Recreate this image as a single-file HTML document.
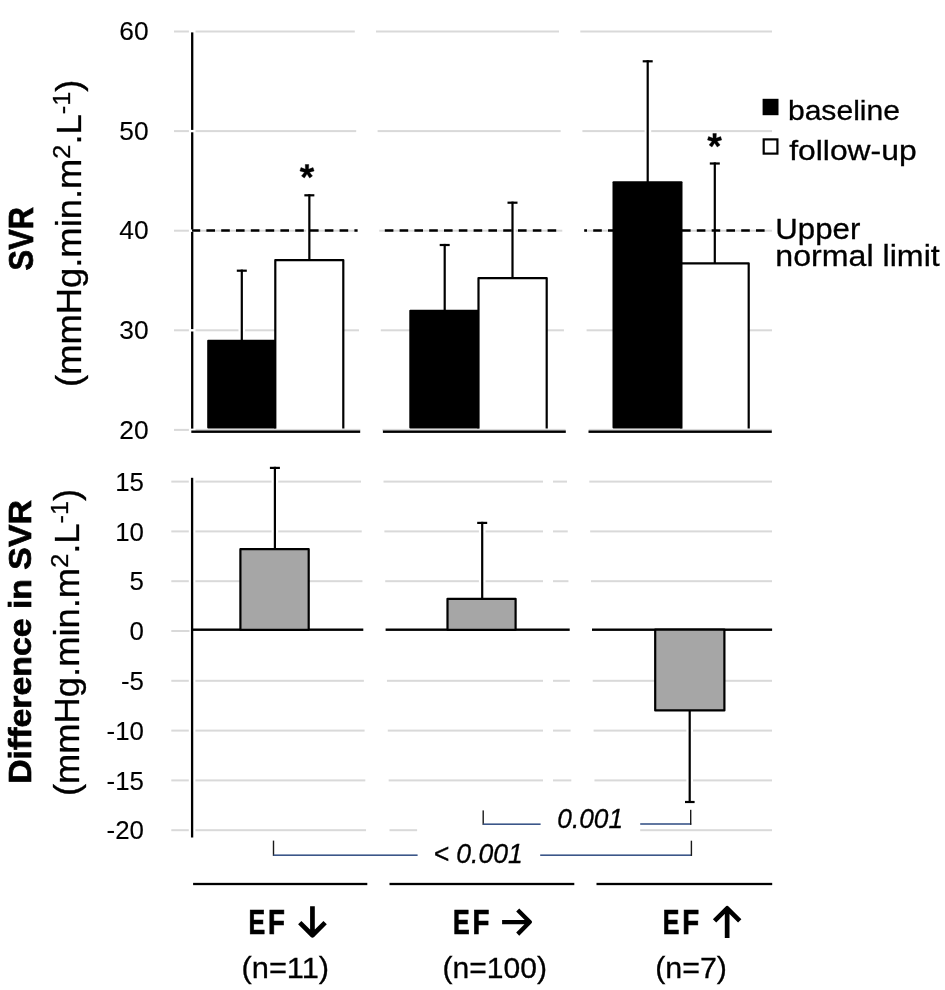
<!DOCTYPE html>
<html><head><meta charset="utf-8"><title>SVR chart</title><style>
html,body{margin:0;padding:0;background:#fff;overflow:hidden;}
svg{display:block;will-change:transform;}
text{font-family:"Liberation Sans", sans-serif;fill:#000;stroke:#000;stroke-width:0.3px;}
text[font-weight="bold"]{stroke-width:0.7px;}
</style></head><body>
<svg width="945" height="990" viewBox="0 0 945 990">
<rect width="945" height="990" fill="#fff"/>
<rect x="174.00" y="30.50" width="180.81" height="2.00" fill="#d9d9d9"/>
<rect x="376.01" y="30.50" width="183.00" height="2.00" fill="#d9d9d9"/>
<rect x="580.31" y="30.50" width="191.69" height="2.00" fill="#d9d9d9"/>
<rect x="174.00" y="130.10" width="182.20" height="2.00" fill="#d9d9d9"/>
<rect x="377.60" y="130.10" width="183.05" height="2.00" fill="#d9d9d9"/>
<rect x="582.40" y="130.10" width="189.60" height="2.00" fill="#d9d9d9"/>
<rect x="174.00" y="229.70" width="183.60" height="2.00" fill="#d9d9d9"/>
<rect x="379.20" y="229.70" width="183.10" height="2.00" fill="#d9d9d9"/>
<rect x="584.49" y="229.70" width="187.51" height="2.00" fill="#d9d9d9"/>
<rect x="174.00" y="329.30" width="184.99" height="2.00" fill="#d9d9d9"/>
<rect x="380.79" y="329.30" width="183.15" height="2.00" fill="#d9d9d9"/>
<rect x="586.59" y="329.30" width="185.41" height="2.00" fill="#d9d9d9"/>
<rect x="174.00" y="428.90" width="186.38" height="2.00" fill="#d9d9d9"/>
<rect x="382.38" y="428.90" width="183.20" height="2.00" fill="#d9d9d9"/>
<rect x="588.68" y="428.90" width="183.32" height="2.00" fill="#d9d9d9"/>
<rect x="188.90" y="29.90" width="6.60" height="3.20" fill="#fff"/>
<rect x="188.90" y="129.50" width="6.60" height="3.20" fill="#fff"/>
<rect x="644.60" y="129.50" width="6.60" height="3.20" fill="#fff"/>
<rect x="188.90" y="229.10" width="6.60" height="3.20" fill="#fff"/>
<rect x="306.10" y="229.10" width="6.60" height="3.20" fill="#fff"/>
<rect x="509.00" y="229.10" width="6.60" height="3.20" fill="#fff"/>
<rect x="711.20" y="229.10" width="6.60" height="3.20" fill="#fff"/>
<rect x="188.90" y="328.70" width="6.60" height="3.20" fill="#fff"/>
<rect x="238.50" y="328.70" width="6.60" height="3.20" fill="#fff"/>
<rect x="188.90" y="428.30" width="6.60" height="3.20" fill="#fff"/>
<rect x="191.05" y="32.40" width="2.30" height="97.50" fill="#000"/>
<rect x="191.05" y="132.30" width="2.30" height="97.20" fill="#000"/>
<rect x="191.05" y="231.90" width="2.30" height="97.20" fill="#000"/>
<rect x="191.05" y="331.50" width="2.30" height="97.10" fill="#000"/>
<rect x="191.30" y="430.50" width="168.90" height="2.40" fill="#000"/>
<rect x="382.90" y="430.50" width="182.90" height="2.40" fill="#000"/>
<rect x="588.50" y="430.50" width="183.30" height="2.40" fill="#000"/>
<rect x="192.00" y="229.25" width="8.20" height="2.50" fill="#000"/>
<rect x="206.40" y="229.25" width="8.60" height="2.50" fill="#000"/>
<rect x="221.20" y="229.25" width="8.60" height="2.50" fill="#000"/>
<rect x="236.00" y="229.25" width="8.60" height="2.50" fill="#000"/>
<rect x="250.80" y="229.25" width="8.60" height="2.50" fill="#000"/>
<rect x="265.60" y="229.25" width="8.60" height="2.50" fill="#000"/>
<rect x="280.40" y="229.25" width="8.60" height="2.50" fill="#000"/>
<rect x="295.20" y="229.25" width="8.60" height="2.50" fill="#000"/>
<rect x="310.00" y="229.25" width="8.60" height="2.50" fill="#000"/>
<rect x="324.80" y="229.25" width="8.60" height="2.50" fill="#000"/>
<rect x="339.60" y="229.25" width="8.60" height="2.50" fill="#000"/>
<rect x="354.40" y="229.25" width="3.19" height="2.50" fill="#000"/>
<rect x="384.80" y="229.25" width="8.60" height="2.50" fill="#000"/>
<rect x="399.60" y="229.25" width="8.60" height="2.50" fill="#000"/>
<rect x="414.40" y="229.25" width="8.60" height="2.50" fill="#000"/>
<rect x="429.20" y="229.25" width="8.60" height="2.50" fill="#000"/>
<rect x="444.00" y="229.25" width="8.60" height="2.50" fill="#000"/>
<rect x="458.80" y="229.25" width="8.60" height="2.50" fill="#000"/>
<rect x="473.60" y="229.25" width="8.60" height="2.50" fill="#000"/>
<rect x="488.40" y="229.25" width="8.60" height="2.50" fill="#000"/>
<rect x="503.20" y="229.25" width="8.60" height="2.50" fill="#000"/>
<rect x="518.00" y="229.25" width="8.60" height="2.50" fill="#000"/>
<rect x="532.80" y="229.25" width="8.60" height="2.50" fill="#000"/>
<rect x="547.60" y="229.25" width="8.60" height="2.50" fill="#000"/>
<rect x="584.20" y="229.25" width="2.80" height="2.50" fill="#000"/>
<rect x="593.20" y="229.25" width="8.60" height="2.50" fill="#000"/>
<rect x="608.00" y="229.25" width="8.60" height="2.50" fill="#000"/>
<rect x="622.80" y="229.25" width="8.60" height="2.50" fill="#000"/>
<rect x="637.60" y="229.25" width="8.60" height="2.50" fill="#000"/>
<rect x="652.40" y="229.25" width="8.60" height="2.50" fill="#000"/>
<rect x="667.20" y="229.25" width="8.60" height="2.50" fill="#000"/>
<rect x="682.00" y="229.25" width="8.60" height="2.50" fill="#000"/>
<rect x="696.80" y="229.25" width="8.60" height="2.50" fill="#000"/>
<rect x="711.60" y="229.25" width="8.60" height="2.50" fill="#000"/>
<rect x="726.40" y="229.25" width="8.60" height="2.50" fill="#000"/>
<rect x="741.20" y="229.25" width="8.60" height="2.50" fill="#000"/>
<rect x="756.00" y="229.25" width="8.60" height="2.50" fill="#000"/>
<rect x="240.70" y="269.60" width="2.20" height="70.40" fill="#000"/>
<rect x="236.80" y="269.60" width="10.00" height="2.20" fill="#000"/>
<rect x="308.25" y="194.20" width="2.20" height="65.80" fill="#000"/>
<rect x="304.35" y="194.20" width="10.00" height="2.20" fill="#000"/>
<rect x="207.20" y="339.70" width="69.20" height="88.80" rx="1" fill="#000"/>
<path d="M275.30 428.50V260.10H343.30V428.50" fill="#fff" stroke="#000" stroke-width="2.2" stroke-linejoin="round"/>
<rect x="443.60" y="243.90" width="2.20" height="67.10" fill="#000"/>
<rect x="439.70" y="243.90" width="10.00" height="2.20" fill="#000"/>
<rect x="511.40" y="201.60" width="2.20" height="76.40" fill="#000"/>
<rect x="507.50" y="201.60" width="10.00" height="2.20" fill="#000"/>
<rect x="409.30" y="309.80" width="70.30" height="118.70" rx="1" fill="#000"/>
<path d="M478.50 428.50V278.10H546.70V428.50" fill="#fff" stroke="#000" stroke-width="2.2" stroke-linejoin="round"/>
<rect x="646.60" y="60.20" width="2.20" height="121.80" fill="#000"/>
<rect x="642.70" y="60.20" width="10.00" height="2.20" fill="#000"/>
<rect x="713.70" y="162.40" width="2.20" height="100.60" fill="#000"/>
<rect x="709.80" y="162.40" width="10.00" height="2.20" fill="#000"/>
<rect x="612.50" y="181.30" width="70.00" height="247.20" rx="1" fill="#000"/>
<path d="M681.40 428.50V263.30H748.70V428.50" fill="#fff" stroke="#000" stroke-width="2.2" stroke-linejoin="round"/>
<path d="M308.40 172.20L308.75 164.50L305.25 164.50L305.60 172.20ZM306.67 172.98L314.10 170.93L313.02 167.60L305.81 170.32ZM308.19 170.32L300.98 167.60L299.90 170.93L307.33 172.98ZM305.40 171.58L309.64 178.01L312.47 175.95L307.66 169.93ZM306.34 169.93L301.53 175.95L304.36 178.01L308.60 171.58Z" fill="#000" stroke="#000" stroke-width="0.4" stroke-linejoin="round"/>
<path d="M716.00 141.20L716.35 133.50L712.85 133.50L713.20 141.20ZM714.27 141.98L721.70 139.93L720.62 136.60L713.41 139.32ZM715.79 139.32L708.58 136.60L707.50 139.93L714.93 141.98ZM713.00 140.58L717.24 147.01L720.07 144.95L715.26 138.93ZM713.94 138.93L709.13 144.95L711.96 147.01L716.20 140.58Z" fill="#000" stroke="#000" stroke-width="0.4" stroke-linejoin="round"/>
<rect x="762.60" y="98.80" width="15.90" height="16.40" fill="#000"/>
<rect x="762.60" y="138.30" width="15.90" height="16.40" fill="#000"/>
<rect x="764.80" y="140.50" width="11.50" height="12.00" fill="#fff"/>
<text transform="translate(148.7,40.10) scale(1.055,1)" font-size="25" text-anchor="end" style="stroke-width:0.12px">60</text>
<text transform="translate(148.7,139.70) scale(1.055,1)" font-size="25" text-anchor="end" style="stroke-width:0.12px">50</text>
<text transform="translate(148.7,239.30) scale(1.055,1)" font-size="25" text-anchor="end" style="stroke-width:0.12px">40</text>
<text transform="translate(148.7,338.90) scale(1.055,1)" font-size="25" text-anchor="end" style="stroke-width:0.12px">30</text>
<text transform="translate(148.7,438.50) scale(1.055,1)" font-size="25" text-anchor="end" style="stroke-width:0.12px">20</text>
<rect x="171.30" y="480.60" width="189.71" height="2.00" fill="#d9d9d9"/>
<rect x="383.51" y="480.60" width="159.49" height="2.00" fill="#d9d9d9"/>
<rect x="553.00" y="480.60" width="14.01" height="2.00" fill="#d9d9d9"/>
<rect x="589.31" y="480.60" width="182.69" height="2.00" fill="#d9d9d9"/>
<rect x="171.30" y="530.40" width="190.43" height="2.00" fill="#d9d9d9"/>
<rect x="384.37" y="530.40" width="158.63" height="2.00" fill="#d9d9d9"/>
<rect x="553.00" y="530.40" width="14.73" height="2.00" fill="#d9d9d9"/>
<rect x="590.17" y="530.40" width="181.83" height="2.00" fill="#d9d9d9"/>
<rect x="171.30" y="580.20" width="191.14" height="2.00" fill="#d9d9d9"/>
<rect x="385.22" y="580.20" width="157.78" height="2.00" fill="#d9d9d9"/>
<rect x="553.00" y="580.20" width="15.44" height="2.00" fill="#d9d9d9"/>
<rect x="591.02" y="580.20" width="180.98" height="2.00" fill="#d9d9d9"/>
<rect x="171.30" y="630.00" width="18.20" height="2.00" fill="#d9d9d9"/>
<rect x="171.30" y="679.80" width="192.58" height="2.00" fill="#d9d9d9"/>
<rect x="386.94" y="679.80" width="156.06" height="2.00" fill="#d9d9d9"/>
<rect x="553.00" y="679.80" width="16.88" height="2.00" fill="#d9d9d9"/>
<rect x="592.74" y="679.80" width="179.26" height="2.00" fill="#d9d9d9"/>
<rect x="171.30" y="729.60" width="193.29" height="2.00" fill="#d9d9d9"/>
<rect x="387.79" y="729.60" width="155.21" height="2.00" fill="#d9d9d9"/>
<rect x="553.00" y="729.60" width="17.59" height="2.00" fill="#d9d9d9"/>
<rect x="593.59" y="729.60" width="178.41" height="2.00" fill="#d9d9d9"/>
<rect x="171.30" y="779.40" width="194.01" height="2.00" fill="#d9d9d9"/>
<rect x="388.65" y="779.40" width="154.35" height="2.00" fill="#d9d9d9"/>
<rect x="553.00" y="779.40" width="18.31" height="2.00" fill="#d9d9d9"/>
<rect x="594.45" y="779.40" width="177.55" height="2.00" fill="#d9d9d9"/>
<rect x="171.30" y="829.20" width="194.73" height="2.00" fill="#d9d9d9"/>
<rect x="389.51" y="829.20" width="27.59" height="2.00" fill="#d9d9d9"/>
<rect x="640.20" y="829.20" width="131.80" height="2.00" fill="#d9d9d9"/>
<rect x="188.80" y="480.00" width="6.60" height="3.20" fill="#fff"/>
<rect x="271.60" y="480.00" width="6.60" height="3.20" fill="#fff"/>
<rect x="188.80" y="529.80" width="6.60" height="3.20" fill="#fff"/>
<rect x="271.60" y="529.80" width="6.60" height="3.20" fill="#fff"/>
<rect x="478.90" y="529.80" width="6.60" height="3.20" fill="#fff"/>
<rect x="188.80" y="579.60" width="6.60" height="3.20" fill="#fff"/>
<rect x="478.90" y="579.60" width="6.60" height="3.20" fill="#fff"/>
<rect x="188.80" y="679.20" width="6.60" height="3.20" fill="#fff"/>
<rect x="188.80" y="729.00" width="6.60" height="3.20" fill="#fff"/>
<rect x="686.40" y="729.00" width="6.60" height="3.20" fill="#fff"/>
<rect x="188.80" y="778.80" width="6.60" height="3.20" fill="#fff"/>
<rect x="686.40" y="778.80" width="6.60" height="3.20" fill="#fff"/>
<rect x="188.80" y="828.60" width="6.60" height="3.20" fill="#fff"/>
<rect x="190.95" y="477.80" width="2.30" height="359.70" fill="#000"/>
<rect x="192.00" y="628.50" width="171.30" height="2.40" fill="#000"/>
<rect x="385.60" y="628.50" width="184.10" height="2.40" fill="#000"/>
<rect x="592.00" y="628.50" width="180.10" height="2.40" fill="#000"/>
<rect x="273.80" y="466.80" width="2.20" height="82.20" fill="#000"/>
<rect x="269.90" y="466.80" width="10.00" height="2.20" fill="#000"/>
<rect x="240.40" y="549.20" width="68.30" height="80.60" fill="#a6a6a6" stroke="#000" stroke-width="2.2" stroke-linejoin="round"/>
<rect x="481.10" y="521.80" width="2.20" height="76.20" fill="#000"/>
<rect x="477.20" y="521.80" width="10.00" height="2.20" fill="#000"/>
<rect x="447.50" y="598.80" width="68.10" height="31.00" fill="#a6a6a6" stroke="#000" stroke-width="2.2" stroke-linejoin="round"/>
<rect x="688.60" y="711.00" width="2.20" height="92.00" fill="#000"/>
<rect x="685.00" y="800.90" width="9.60" height="2.20" fill="#000"/>
<rect x="655.20" y="629.60" width="69.20" height="80.80" fill="#a6a6a6" stroke="#000" stroke-width="2.2" stroke-linejoin="round"/>
<text transform="translate(144.0,490.80) scale(1.035,1)" font-size="25" text-anchor="end" style="stroke-width:0.12px">15</text>
<text transform="translate(144.0,540.60) scale(1.035,1)" font-size="25" text-anchor="end" style="stroke-width:0.12px">10</text>
<text transform="translate(144.0,590.40) scale(1.035,1)" font-size="25" text-anchor="end" style="stroke-width:0.12px">5</text>
<text transform="translate(144.0,640.20) scale(1.035,1)" font-size="25" text-anchor="end" style="stroke-width:0.12px">0</text>
<text transform="translate(144.0,690.00) scale(1.035,1)" font-size="25" text-anchor="end" style="stroke-width:0.12px">-5</text>
<text transform="translate(144.0,739.80) scale(1.035,1)" font-size="25" text-anchor="end" style="stroke-width:0.12px">-10</text>
<text transform="translate(144.0,789.60) scale(1.035,1)" font-size="25" text-anchor="end" style="stroke-width:0.12px">-15</text>
<text transform="translate(144.0,839.40) scale(1.035,1)" font-size="25" text-anchor="end" style="stroke-width:0.12px">-20</text>
<rect x="482.50" y="810.40" width="1.40" height="14.50" fill="#1a1a1a"/>
<rect x="483.20" y="823.40" width="57.40" height="1.60" fill="#3b5689"/>
<rect x="640.20" y="823.20" width="51.10" height="1.60" fill="#3b5689"/>
<rect x="690.00" y="809.80" width="1.40" height="15.00" fill="#1a1a1a"/>
<text x="557.30" y="828.40" font-size="28.2" font-weight="normal" font-style="italic" textLength="65.74" lengthAdjust="spacingAndGlyphs">0.001</text>
<rect x="272.80" y="840.60" width="1.40" height="15.30" fill="#1a1a1a"/>
<rect x="273.50" y="854.40" width="144.10" height="1.60" fill="#3b5689"/>
<rect x="540.20" y="854.40" width="151.50" height="1.60" fill="#3b5689"/>
<rect x="690.70" y="840.70" width="1.40" height="15.20" fill="#1a1a1a"/>
<text x="433.40" y="862.50" font-size="26.76" font-weight="normal" font-style="italic" textLength="89.38" lengthAdjust="spacingAndGlyphs">&lt; 0.001</text>
<rect x="193.10" y="882.85" width="174.20" height="2.30" fill="#000"/>
<rect x="389.50" y="882.85" width="184.80" height="2.30" fill="#000"/>
<rect x="596.50" y="882.85" width="175.70" height="2.30" fill="#000"/>
<text x="248.50" y="933.50" font-size="34.21" font-weight="bold" font-style="normal" textLength="16.67" lengthAdjust="spacingAndGlyphs">E</text>
<text x="268.00" y="933.50" font-size="34.21" font-weight="bold" font-style="normal" textLength="16.92" lengthAdjust="spacingAndGlyphs">F</text>
<text x="453.10" y="933.50" font-size="34.21" font-weight="bold" font-style="normal" textLength="16.67" lengthAdjust="spacingAndGlyphs">E</text>
<text x="472.60" y="933.50" font-size="34.21" font-weight="bold" font-style="normal" textLength="16.92" lengthAdjust="spacingAndGlyphs">F</text>
<text x="662.70" y="933.50" font-size="34.21" font-weight="bold" font-style="normal" textLength="16.67" lengthAdjust="spacingAndGlyphs">E</text>
<text x="682.20" y="933.50" font-size="34.21" font-weight="bold" font-style="normal" textLength="16.92" lengthAdjust="spacingAndGlyphs">F</text>
<path d="M312.45 906.2V935.25M299.76 922.56L312.45 935.25L325.14 922.56" stroke="#000" stroke-width="4.7" fill="none" stroke-linecap="butt" stroke-linejoin="round"/>
<path d="M502.1 922.1H529.75M517.71 910.0600000000001L529.75 922.1L517.71 934.14" stroke="#000" stroke-width="4.3" fill="none" stroke-linecap="butt" stroke-linejoin="round"/>
<path d="M727.15 938V908.35M714.56 920.94L727.15 908.35L739.74 920.94" stroke="#000" stroke-width="4.7" fill="none" stroke-linecap="butt" stroke-linejoin="round"/>
<text x="241.50" y="978.30" font-size="29.2" font-weight="normal" font-style="normal" textLength="87.6" lengthAdjust="spacingAndGlyphs">(n=11)</text>
<text x="442.60" y="978.30" font-size="29.2" font-weight="normal" font-style="normal" textLength="104.42" lengthAdjust="spacingAndGlyphs">(n=100)</text>
<text x="655.20" y="978.30" font-size="29.2" font-weight="normal" font-style="normal" textLength="71.72" lengthAdjust="spacingAndGlyphs">(n=7)</text>
<text x="787.90" y="119.60" font-size="28.3" font-weight="normal" font-style="normal" textLength="112.15" lengthAdjust="spacingAndGlyphs">baseline</text>
<text x="789.20" y="159.50" font-size="28.3" font-weight="normal" font-style="normal" textLength="127.41" lengthAdjust="spacingAndGlyphs">follow-up</text>
<text x="775.30" y="239.10" font-size="29.3" font-weight="normal" font-style="normal" textLength="84.98" lengthAdjust="spacingAndGlyphs">Upper</text>
<text x="775.30" y="265.60" font-size="29.3" font-weight="normal" font-style="normal" textLength="164.44" lengthAdjust="spacingAndGlyphs">normal limit</text>
<g transform="translate(33.3,270.4) rotate(-90)"><text x="0" y="0" font-size="34.26" font-weight="bold" textLength="63.32" lengthAdjust="spacingAndGlyphs">SVR</text></g>
<g transform="translate(30.8,783.8) rotate(-90)"><text x="0" y="0" font-size="31.93" font-weight="bold" textLength="283.66" lengthAdjust="spacingAndGlyphs">Difference in SVR</text></g>
<g transform="translate(81.2,386.9) rotate(-90) scale(1.054,1)"><text x="0" y="0" font-size="34.5">(mmHg.min.m<tspan font-size="24" dy="-11.6">2</tspan><tspan dy="11.6">.L</tspan><tspan font-size="24" dy="-11.6">-1</tspan><tspan dy="11.6">)</tspan></text></g>
<g transform="translate(79.2,796.1) rotate(-90) scale(1.054,1)"><text x="0" y="0" font-size="34.5">(mmHg.min.m<tspan font-size="24" dy="-11.6">2</tspan><tspan dy="11.6">.L</tspan><tspan font-size="24" dy="-11.6">-1</tspan><tspan dy="11.6">)</tspan></text></g>
</svg></body></html>
